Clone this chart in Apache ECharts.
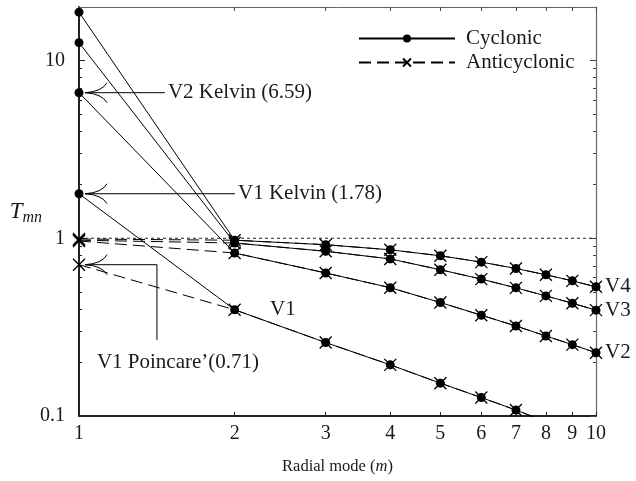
<!DOCTYPE html>
<html>
<head>
<meta charset="utf-8">
<script src="https://cdn.jsdelivr.net/npm/echarts@6/dist/echarts.min.js"></script>
<style>html,body{margin:0;padding:0;background:#fff}#c{width:636px;height:481px}</style>
</head>
<body>
<div id="c"></div>
<script>
// ---- data ----
const modes = [1, 2, 3, 4, 5, 6, 7, 8, 9, 10];
const v1Cyclonic     = [1.78, 0.396, 0.259, 0.194, 0.153, 0.127, 0.108, 0.093, 0.082, 0.073];
const v1Anticyclonic = [0.71, 0.396, 0.259, 0.194, 0.153, 0.127, 0.108, 0.093, 0.082, 0.073];
const v2Cyclonic     = [6.59, 0.826, 0.638, 0.527, 0.435, 0.369, 0.321, 0.282, 0.252, 0.227];
const v2Anticyclonic = [0.965, 0.826, 0.638, 0.527, 0.435, 0.369, 0.321, 0.282, 0.252, 0.227];
const v3Cyclonic     = [12.6, 0.94, 0.845, 0.765, 0.665, 0.589, 0.526, 0.474, 0.431, 0.394];
const v3Anticyclonic = [0.975, 0.94, 0.845, 0.765, 0.665, 0.589, 0.526, 0.474, 0.431, 0.394];
const v4Cyclonic     = [18.7, 0.975, 0.92, 0.861, 0.797, 0.734, 0.676, 0.623, 0.576, 0.533];
const v4Anticyclonic = [0.99, 0.975, 0.92, 0.861, 0.797, 0.734, 0.676, 0.623, 0.576, 0.533];
const yMajorTicks = [0.1, 1, 10];
const yMinorTicks = [0.2, 0.3, 0.4, 0.5, 0.6, 0.7, 0.8, 0.9, 2, 3, 4, 5, 6, 7, 8, 9];
const referenceLine = [1, 1]; // T = 1 at m = 1 and m = 10
const legendNames = ['Cyclonic', 'Anticyclonic'];
// annotations (data units)
const kelvinV2 = {label: 'V2 Kelvin (6.59)', m: 1, t: 6.59, textM: 1.486};
const kelvinV1 = {label: 'V1 Kelvin (1.78)', m: 1, t: 1.78, textM: 2.03};
const poincareV1 = {label: 'V1 Poincare\u2019(0.71)', m: 1, t: 0.71, bendM: 1.415, endT: 0.268, textM: 1.083, textT: 0.199};
const v1Label = {label: 'V1', m: 2.48, t: 0.395};

const F = 'Liberation Serif';
const INK = '#1a1a1a';
const chart = echarts.init(document.getElementById('c'), null, {renderer: 'canvas'});

function pairs(arr) { return modes.map((x, i) => [x, arr[i]]); }
const CROSS = 'path://M0,0L10,10M10,0L0,10';
function cyc(data, end) {
  return {
    name: 'Cyclonic', type: 'line', data: pairs(data), xAxisIndex: 0, yAxisIndex: 0,
    symbol: 'circle', symbolSize: 9, clip: true, z: 3,
    itemStyle: {color: '#000'},
    lineStyle: {color: '#000', width: 1},
    endLabel: end ? {show: true, formatter: end, fontFamily: F, fontSize: 21, color: INK, distance: 9} : {show: false}
  };
}
function anti(data) {
  return {
    name: 'Anticyclonic', type: 'line', data: pairs(data), xAxisIndex: 0, yAxisIndex: 0,
    symbol: CROSS, symbolSize: 12, clip: true, z: 2,
    itemStyle: {color: '#000', borderColor: '#000', borderWidth: 1.3},
    lineStyle: {color: '#000', width: 1, type: [12, 6]}
  };
}

const yBase = {type: 'log', logBase: 10, min: 0.1, max: 20, splitLine: {show: false}, minorTick: {show: false}};
const xBase = {type: 'log', logBase: 10, min: 1, max: 10, splitLine: {show: false}, minorTick: {show: false}};

const option = {
  animation: false,
  backgroundColor: '#fff',
  grid: {left: 79, right: 40, top: 7, bottom: 65},
  legend: {
    data: legendNames, orient: 'vertical', left: 353, top: 23,
    itemWidth: 96, itemHeight: 10, itemGap: 3,
    textStyle: {fontFamily: F, fontSize: 21, color: INK, padding: [0, 0, 0, 6]}
  },
  xAxis: [
    Object.assign({}, xBase, {
      position: 'bottom',
      axisLine: {onZero: false, lineStyle: {color: '#222', width: 2}},
      axisTick: {inside: true, length: 4, customValues: modes, lineStyle: {color: '#222'}},
      axisLabel: {customValues: modes, fontFamily: F, fontSize: 20, color: INK, margin: 8},
      name: 'Radial mode ({i|m})', nameLocation: 'middle', nameGap: 42,
      nameTextStyle: {fontFamily: F, fontSize: 16.5, color: INK,
        rich: {i: {fontFamily: F, fontSize: 16.5, fontStyle: 'italic', color: INK}}}
    }),
    Object.assign({}, xBase, {
      position: 'top',
      axisLine: {onZero: false, lineStyle: {color: '#666', width: 1}},
      axisTick: {inside: true, length: 4, customValues: modes, lineStyle: {color: '#444'}},
      axisLabel: {show: false}
    })
  ],
  yAxis: [
    Object.assign({}, yBase, {
      position: 'left',
      axisLine: {onZero: false, lineStyle: {color: '#222', width: 2}},
      axisTick: {inside: true, length: 6, customValues: yMajorTicks, lineStyle: {color: '#222'}},
      axisLabel: {customValues: yMajorTicks, fontFamily: F, fontSize: 20, color: INK, margin: 14,
        formatter: v => String(v)},
      name: '{t|T}{s|mn}', nameLocation: 'middle', nameRotate: 0, nameGap: 37, nameMoveOverlap: false,
      nameTextStyle: {align: 'right', rich: {
        t: {fontFamily: F, fontSize: 23, fontStyle: 'italic', color: INK},
        s: {fontFamily: F, fontSize: 16, fontStyle: 'italic', color: INK, padding: [13, 0, 0, 0]}
      }}
    }),
    Object.assign({}, yBase, {
      position: 'right',
      axisLine: {onZero: false, lineStyle: {color: '#666', width: 1.2}},
      axisTick: {inside: true, length: 6, customValues: yMajorTicks, lineStyle: {color: '#444'}},
      axisLabel: {show: false}
    }),
    Object.assign({}, yBase, {
      position: 'left',
      axisLine: {show: false},
      axisTick: {inside: true, length: 3, customValues: yMinorTicks, lineStyle: {color: '#222'}},
      axisLabel: {show: false}
    }),
    Object.assign({}, yBase, {
      position: 'right',
      axisLine: {show: false},
      axisTick: {inside: true, length: 3, customValues: yMinorTicks, lineStyle: {color: '#444'}},
      axisLabel: {show: false}
    })
  ],
  series: [
    {
      name: 'ref', type: 'line', xAxisIndex: 0, yAxisIndex: 0,
      data: [[modes[0], referenceLine[0]], [modes[modes.length - 1], referenceLine[1]]],
      symbol: 'none', silent: true, z: 1,
      lineStyle: {color: '#222', width: 1, type: [3, 3]}
    },
    anti(v1Anticyclonic), anti(v2Anticyclonic), anti(v3Anticyclonic), anti(v4Anticyclonic),
    cyc(v1Cyclonic), cyc(v2Cyclonic, 'V2'), cyc(v3Cyclonic, 'V3'), cyc(v4Cyclonic, 'V4')
  ]
};
chart.setOption(option);

// ---- annotations positioned from data coordinates ----
const toPx = (m, t) => chart.convertToPixel({xAxisIndex: 0, yAxisIndex: 0}, [m, t]);
const g = [];
const stroke = {stroke: '#000', lineWidth: 1, fill: null};
const FONT = '21px "' + F + '"';
function arrowHead(tip) {
  const [x, y] = tip;
  g.push({type: 'bezierCurve', shape: {x1: x + 22, y1: y - 10, x2: x, y2: y, cpx1: x + 17, cpy1: y - 1}, style: stroke, z: 10});
  g.push({type: 'bezierCurve', shape: {x1: x + 22, y1: y + 10, x2: x, y2: y, cpx1: x + 17, cpy1: y + 1}, style: stroke, z: 10});
}
[kelvinV2, kelvinV1].forEach(a => {
  const p = toPx(a.m, a.t);
  const tip = [p[0] + 6, p[1]];
  arrowHead(tip);
  const tx = toPx(a.textM, a.t)[0];
  g.push({type: 'line', shape: {x1: tip[0], y1: tip[1], x2: tx - 3, y2: tip[1]}, style: stroke, z: 10});
  g.push({type: 'text', x: tx, y: tip[1], style: {text: a.label, font: FONT, fill: INK, verticalAlign: 'middle', align: 'left'}, z: 10});
});
(function () {
  const a = poincareV1;
  const p = toPx(a.m, a.t);
  const tip = [p[0] + 6, p[1]];
  arrowHead(tip);
  const bx = toPx(a.bendM, a.t)[0];
  const by = toPx(a.bendM, a.endT)[1];
  g.push({type: 'polyline', shape: {points: [tip, [bx, tip[1]], [bx, by]]}, style: stroke, z: 10});
  const tp = toPx(a.textM, a.textT);
  g.push({type: 'text', x: tp[0], y: tp[1], style: {text: a.label, font: FONT, fill: INK, verticalAlign: 'middle', align: 'left'}, z: 10});
})();
(function () {
  const p = toPx(v1Label.m, v1Label.t);
  g.push({type: 'text', x: p[0], y: p[1], style: {text: v1Label.label, font: FONT, fill: INK, verticalAlign: 'middle', align: 'center'}, z: 10});
})();
chart.setOption({graphic: g});
</script>
</body>
</html>
